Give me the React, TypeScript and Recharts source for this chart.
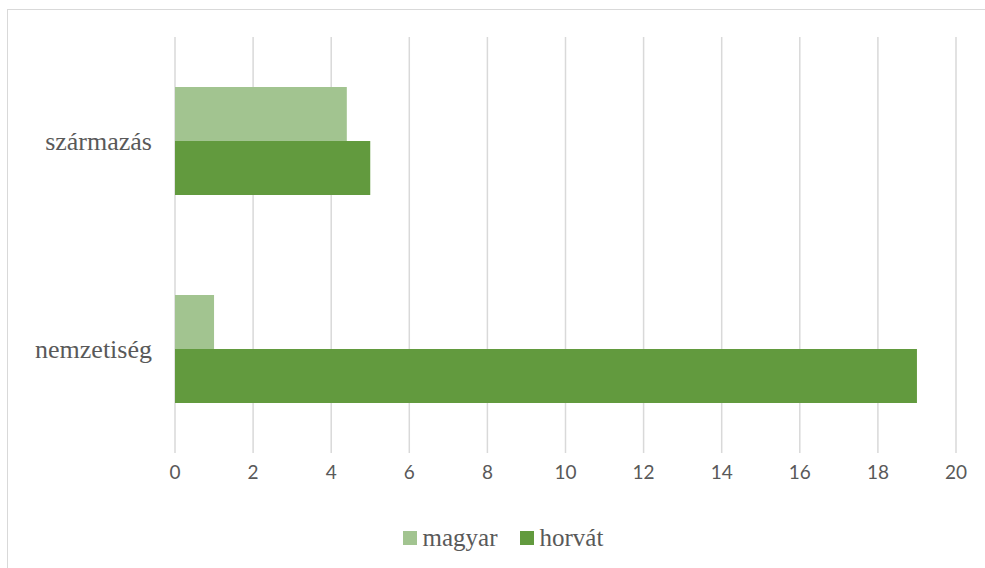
import { BarChart, Bar, XAxis, YAxis, CartesianGrid, Legend } from 'recharts'

const categories = ['származás', 'nemzetiség']
const magyar = [4.4, 1]
const horvat = [5, 19]
const xTicks = [0, 2, 4, 6, 8, 10, 12, 14, 16, 18, 20]

const SERIES = [
  { key: 'magyar', label: 'magyar', color: '#A2C490' },
  { key: 'horvat', label: 'horvát', color: '#629A3E' },
]

const data = categories.map((name, i) => ({
  name,
  magyar: magyar[i],
  horvat: horvat[i],
}))

const SERIF = "'Liberation Serif', 'Times New Roman', serif"

const renderLegend = () => (
  <div style={{ display: 'flex', justifyContent: 'center', gap: 22, paddingLeft: 50, fontFamily: SERIF }}>
    {SERIES.map((s) => (
      <div key={s.key} style={{ display: 'flex', alignItems: 'center' }}>
        <span style={{ display: 'inline-block', width: 14, height: 14, background: s.color, marginRight: 6 }} />
        <span style={{ fontFamily: SERIF, fontSize: 25, color: '#595959', lineHeight: '30px' }}>
          {s.label}
        </span>
      </div>
    ))}
  </div>
)

export default function App() {
  return (
    <div style={{ position: 'absolute', left: 0, top: 0, width: 985, height: 568, overflow: 'hidden', background: '#fff' }}>
      <div style={{ position: 'absolute', left: 7, top: 9, width: 1000, height: 600, border: '1px solid #d9d9d9' }} />
      <div style={{ position: 'absolute', left: 0, top: 0 }}>
        <BarChart
          width={985}
          height={568}
          data={data}
          layout="vertical"
          margin={{ top: 37, right: 29, left: 0, bottom: 15 }}
          barCategoryGap="24%"
          barGap={0}
        >
          <CartesianGrid horizontal={false} stroke="#d9d9d9" strokeWidth={1.5} />
          <XAxis
            type="number"
            domain={[0, 20]}
            ticks={xTicks}
            axisLine={false}
            tickLine={false}
            tickSize={0}
            tickMargin={13}
            height={40}
            tick={{ fill: '#595959', fontSize: 19, fontFamily: 'Lato, sans-serif' }}
          />
          <YAxis
            type="category"
            dataKey="name"
            width={175}
            axisLine={false}
            tickLine={false}
            tickSize={0}
            tickMargin={23}
            tick={{ fill: '#595959', fontSize: 26, fontFamily: SERIF }}
          />
          <Legend verticalAlign="bottom" content={renderLegend} wrapperStyle={{ paddingTop: 30 }} />
          {SERIES.map((s) => (
            <Bar key={s.key} dataKey={s.key} name={s.label} fill={s.color} isAnimationActive={false} />
          ))}
        </BarChart>
      </div>
    </div>
  )
}
